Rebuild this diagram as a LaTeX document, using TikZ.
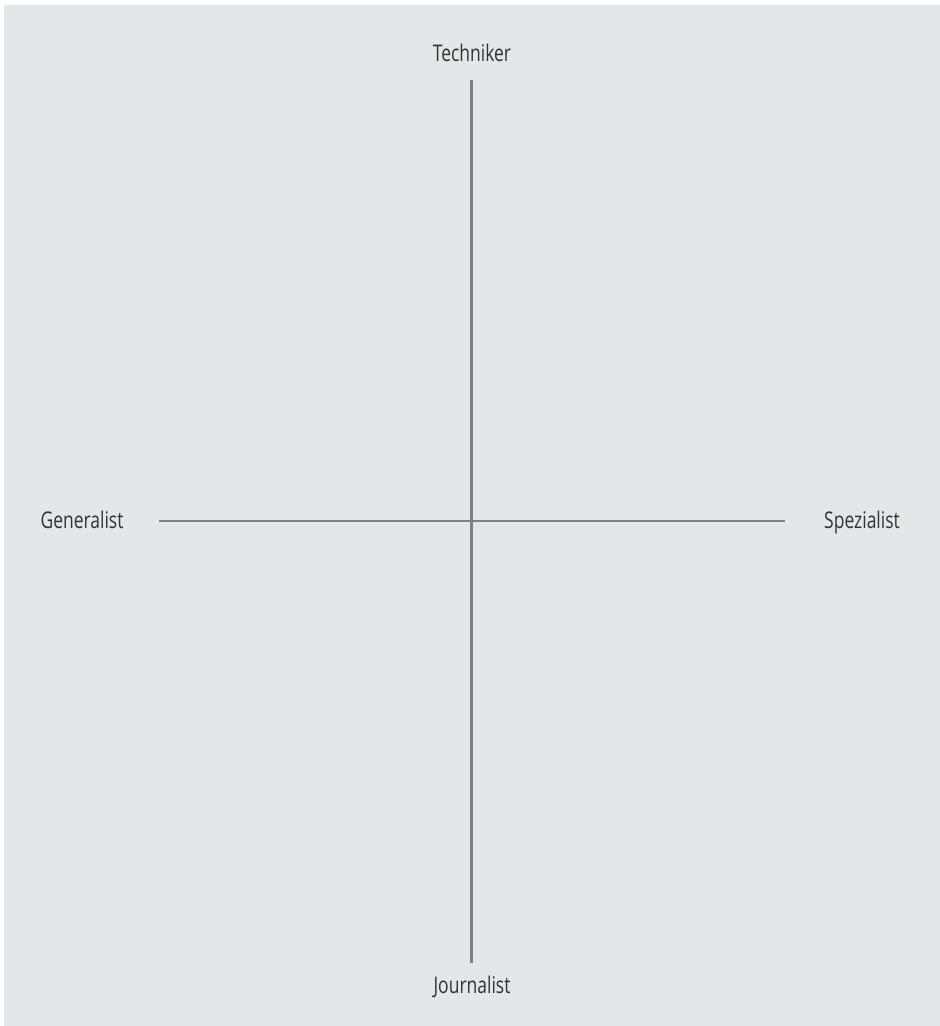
\documentclass[tikz,border=0pt]{standalone}
\usepackage{fontspec}
\setmainfont{Open Sans}[FakeStretch=0.76]
\definecolor{bgc}{HTML}{E5E6E7}
\definecolor{axisc}{HTML}{808080}
\definecolor{txtc}{HTML}{333333}
\begin{document}
\begin{tikzpicture}[x=1pt,y=-1pt,
  axis/.style={draw=axisc,line width=2.4pt},
  lbl/.style={anchor=base,inner sep=0pt,text=txtc,font=\fontsize{23}{27}\selectfont}]
\useasboundingbox (0,0) rectangle (940,1026);
\fill[bgc] (4,5) rectangle (940,1026);
\coordinate (top) at (471.5,80);
\coordinate (bot) at (471.5,963);
\coordinate (left) at (159,521);
\coordinate (right) at (785,521);
\draw[axis] (top) -- (bot);
\draw[axis,line width=2pt] (left) -- (right);
\node[lbl] (t) at (472,61) {Techniker};
\node[lbl] (j) at (472,993) {Journalist};
\node[lbl] (g) at (82,528) {Generalist};
\node[lbl] (s) at (862,528) {Spezialist};
\end{tikzpicture}
\end{document}
